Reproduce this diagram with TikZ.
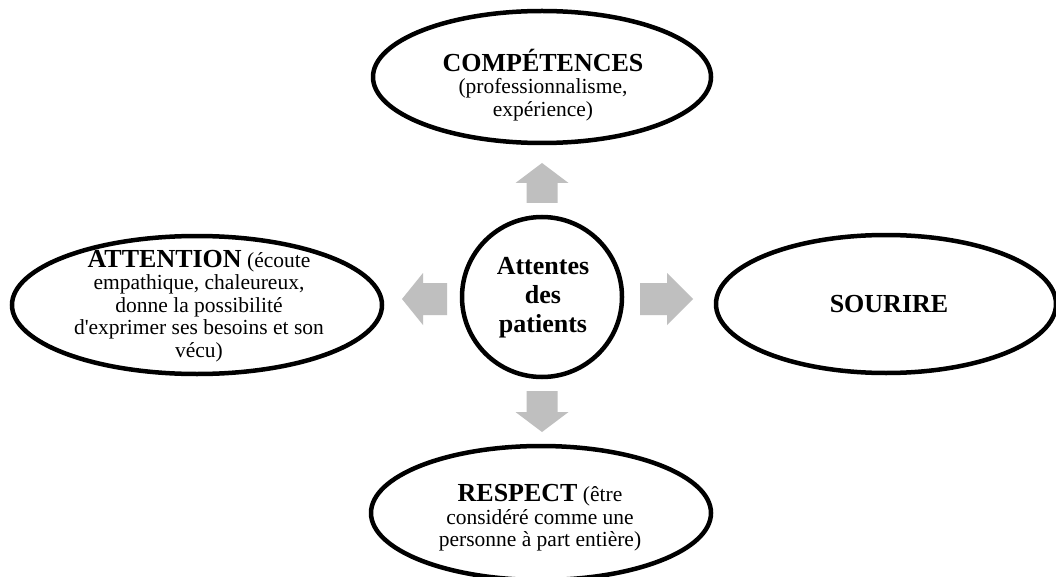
\documentclass[tikz,border=0pt]{standalone}
\usepackage{fontspec}
\setmainfont{Liberation Serif}
\usetikzlibrary{shapes.geometric}
\definecolor{arrgray}{RGB}{191,191,191}
\tikzset{
  ell/.style={draw=black, line width=4.5pt, ellipse, inner sep=0pt, fill=white},
  circ/.style={draw=black, line width=4.5pt, circle, inner sep=0pt, fill=white},
  txt/.style={align=center, inner sep=0pt, font=\fontsize{21.5}{22.5}\selectfont},
  blockarrow/.style={fill=arrgray, draw=none}
}
\newcommand{\bigb}[1]{{\fontsize{26}{22.5}\selectfont\bfseries #1}}
\begin{document}
\begin{tikzpicture}[x=1pt,y=-1pt]
\useasboundingbox (0,0) rectangle (1056,577);
\fill[white] (0,0) rectangle (1056,577);
% ellipses
\node[ell, minimum width=338, minimum height=132] (comp) at (542,77) {};
\node[ell, minimum width=370, minimum height=138] (att) at (197,305) {};
\node[ell, minimum width=340, minimum height=138] (sour) at (886,304) {};
\node[ell, minimum width=340, minimum height=134] (resp) at (541,513) {};
\node[circ, minimum size=160] (centre) at (542,297) {};
% texts
\node[txt] (tcomp) at (543,85) {\bigb{COMPÉTENCES}\\(professionnalisme,\\expérience)};
\node[txt] (tatt) at (199,306) {\bigb{ATTENTION} (écoute\\empathique, chaleureux,\\donne la possibilité\\d\textquotesingle exprimer ses besoins et son\\vécu)};
\node[txt] (tsour) at (889,304) {\bigb{SOURIRE}};
\node[txt] (tresp) at (540,518) {\bigb{RESPECT} (être\\considéré comme une\\personne à part entière)};
\node[align=center, inner sep=0pt, font=\fontsize{26}{29}\selectfont\bfseries] (tcentre) at (543,298) {Attentes\\des\\patients};
% block arrows
\coordinate (up) at (542,163);
\fill[blockarrow] (up) -- ++(26.5,20) -- ++(-11,0) -- ++(0,20) -- ++(-31,0) -- ++(0,-20) -- ++(-11,0) -- cycle;
\coordinate (down) at (542,432);
\fill[blockarrow] (down) -- ++(26.5,-20) -- ++(-11,0) -- ++(0,-21) -- ++(-31,0) -- ++(0,21) -- ++(-11,0) -- cycle;
\coordinate (left) at (402,299);
\fill[blockarrow] (left) -- ++(21,-26) -- ++(0,10) -- ++(24,0) -- ++(0,32) -- ++(-24,0) -- ++(0,10) -- cycle;
\coordinate (right) at (693,299);
\fill[blockarrow] (right) -- ++(-26,-26) -- ++(0,10) -- ++(-27,0) -- ++(0,32) -- ++(27,0) -- ++(0,10) -- cycle;
\end{tikzpicture}
\end{document}
